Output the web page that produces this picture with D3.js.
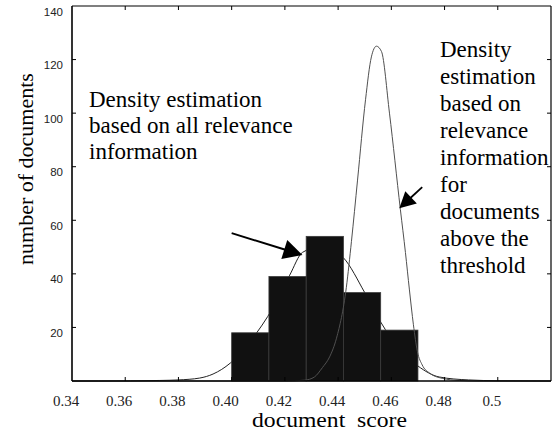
<!DOCTYPE html>
<html>
<head>
<meta charset="utf-8">
<script src="https://cdn.jsdelivr.net/npm/d3@7"></script>
<style>
  html, body { margin: 0; padding: 0; background: #fff; }
  svg { display: block; }
</style>
</head>
<body>
<svg id="chart" width="557" height="434"></svg>
<script>
// ---- data ----
const binEdges = [0.400, 0.414, 0.428, 0.442, 0.456, 0.470];
const binCounts = [18, 39, 54, 33, 19];

// density estimation based on all relevance information
const allScore = [0.340, 0.350, 0.362, 0.373, 0.380, 0.388, 0.393, 0.3995, 0.4094, 0.4135, 0.4218, 0.4266, 0.433, 0.438, 0.442, 0.450, 0.456, 0.463, 0.470, 0.478, 0.489, 0.500, 0.520];
const allDensity = [0, 0, 0.05, 0.2, 0.4, 1.1, 2.6, 6.7, 18, 24, 39.5, 48, 50, 49, 46, 33, 22, 12, 5.6, 1.5, 0.4, 0.1, 0];

// density estimation for documents above the threshold
const thrScore = [0.340, 0.420, 0.4274, 0.4311, 0.4341, 0.4368, 0.4394, 0.4431, 0.445, 0.4473, 0.4503, 0.4525, 0.4544, 0.4563, 0.4593, 0.4634, 0.4653, 0.4668, 0.4683, 0.4698, 0.4716, 0.4743, 0.4791, 0.4855, 0.493, 0.520];
const thrDensity = [0, 0, 0.3, 1.5, 5, 9, 16, 35, 52, 75, 105, 121, 125, 123, 100, 64, 48, 34, 21, 11, 6, 3, 1, 0.2, 0, 0];

const xTicks = [0.34, 0.36, 0.38, 0.40, 0.42, 0.44, 0.46, 0.48, 0.50];
const xTickLabels = ["0.34", "0.36", "0.38", "0.40", "0.42", "0.44", "0.46", "0.48", "0.5"];
const yTicks = [20, 40, 60, 80, 100, 120, 140];
const yTickLabels = ["20", "40", "60", "80", "100", "120", "140"];

const xTitle = "document\u00a0\u00a0score";
const yTitle = "number of documents";
const noteAll = ["Density estimation", "based on all relevance", "information"];
const noteThr = ["Density", "estimation", "based on", "relevance", "information", "for", "documents", "above the", "threshold"];
// arrows: [tailScore, tailCount, tipScore, tipCount]
const arrowAll = [0.400, 55.2, 0.4266, 47];
const arrowThr = [0.4716, 72.4, 0.463, 64.5];

// ---- layout ----
const svg = d3.select("#chart");
const pL = 72, pR = 551, pT = 6, pB = 381;
const x = d3.scaleLinear().domain([0.34, 0.52]).range([pL, pR]);
const y = d3.scaleLinear().domain([0, 140]).range([pB, pT]);

const serif = "'Liberation Serif', 'Times New Roman', Times, serif";
const sans = "'Liberation Sans', Arial, Helvetica, sans-serif";

// wide density curve (behind bars)
const line = d3.line().x(d => x(d[0])).y(d => y(d[1])).curve(d3.curveMonotoneX);
svg.append("path")
  .datum(allScore.map((s, i) => [s, allDensity[i]]))
  .attr("d", line)
  .attr("fill", "none")
  .attr("stroke", "#222")
  .attr("stroke-width", 1);

// histogram bars
svg.append("g").selectAll("rect")
  .data(binCounts)
  .join("rect")
  .attr("x", (d, i) => x(binEdges[i]))
  .attr("width", (d, i) => x(binEdges[i + 1]) - x(binEdges[i]))
  .attr("y", d => y(d))
  .attr("height", d => y(0) - y(d))
  .attr("fill", "#111")
  .attr("stroke", "#3a3a3a")
  .attr("stroke-width", 0.8);

// narrow density curve (on top)
svg.append("path")
  .datum(thrScore.map((s, i) => [s, thrDensity[i]]))
  .attr("d", line)
  .attr("fill", "none")
  .attr("stroke", "#505050")
  .attr("stroke-width", 1);

// frame
const frame = svg.append("g").attr("stroke", "#000").attr("fill", "none");
frame.append("line").attr("x1", pL).attr("x2", pL).attr("y1", pT).attr("y2", pB).attr("stroke-width", 1.6);
frame.append("line").attr("x1", pL).attr("x2", pR).attr("y1", pB).attr("y2", pB).attr("stroke-width", 1.6);
frame.append("line").attr("x1", pL).attr("x2", pR).attr("y1", pT).attr("y2", pT).attr("stroke-width", 1.2);
frame.append("line").attr("x1", pR).attr("x2", pR).attr("y1", pT).attr("y2", pB).attr("stroke-width", 1.2);

// ticks (inside)
const tl = 4;
xTicks.slice(1).forEach(t => {
  frame.append("line").attr("x1", x(t)).attr("x2", x(t)).attr("y1", pB).attr("y2", pB - tl).attr("stroke-width", 1);
  frame.append("line").attr("x1", x(t)).attr("x2", x(t)).attr("y1", pT).attr("y2", pT + tl).attr("stroke-width", 1);
});
yTicks.slice(0, -1).forEach(t => {
  frame.append("line").attr("x1", pL).attr("x2", pL + tl).attr("y1", y(t)).attr("y2", y(t)).attr("stroke-width", 1);
  frame.append("line").attr("x1", pR).attr("x2", pR - tl).attr("y1", y(t)).attr("y2", y(t)).attr("stroke-width", 1);
});

// tick labels
svg.append("g").selectAll("text")
  .data(xTicks)
  .join("text")
  .attr("x", d => x(d) - 6)
  .attr("y", 406)
  .attr("text-anchor", "middle")
  .attr("font-family", serif)
  .attr("font-size", 15)
  .attr("fill", "#222")
  .text((d, i) => xTickLabels[i]);

svg.append("g").selectAll("text")
  .data(yTicks)
  .join("text")
  .attr("x", 63)
  .attr("y", d => y(d) + 9.5)
  .attr("text-anchor", "end")
  .attr("font-family", sans)
  .attr("font-size", 11.5)
  .attr("fill", "#222")
  .text((d, i) => yTickLabels[i]);

// axis titles
svg.append("text")
  .attr("x", 252).attr("y", 427)
  .attr("textLength", 155)
  .attr("lengthAdjust", "spacingAndGlyphs")
  .attr("font-family", serif).attr("font-size", 20)
  .attr("fill", "#000")
  .text(xTitle);

svg.append("text")
  .attr("transform", "translate(33,169) rotate(-90)")
  .attr("text-anchor", "middle")
  .attr("font-family", serif).attr("font-size", 22)
  .attr("fill", "#000")
  .text(yTitle);

// annotations
const noteA = svg.append("text").attr("font-family", serif).attr("font-size", 23).attr("fill", "#000");
noteAll.forEach((s, i) => noteA.append("tspan").attr("x", 89).attr("y", 107 + i * 26).text(s));
const noteB = svg.append("text").attr("font-family", serif).attr("font-size", 23).attr("fill", "#000");
noteThr.forEach((s, i) => noteB.append("tspan").attr("x", 440).attr("y", 57 + i * 27).text(s));

// arrows
function arrow(a, len, halfW, lw) {
  const x1 = x(a[0]), y1 = y(a[1]), x2 = x(a[2]), y2 = y(a[3]);
  const dx = x2 - x1, dy = y2 - y1, L = Math.hypot(dx, dy);
  const ux = dx / L, uy = dy / L;
  const bx = x2 - ux * len, by = y2 - uy * len;
  svg.append("line").attr("x1", x1).attr("y1", y1).attr("x2", bx + ux * 2).attr("y2", by + uy * 2)
    .attr("stroke", "#000").attr("stroke-width", lw);
  svg.append("polygon")
    .attr("points", [[x2, y2], [bx - uy * halfW, by + ux * halfW], [bx + uy * halfW, by - ux * halfW]].map(p => p.join(",")).join(" "))
    .attr("fill", "#000");
}
arrow(arrowAll, 19, 10, 2);
arrow(arrowThr, 16, 8.5, 1.8);
</script>
</body>
</html>
